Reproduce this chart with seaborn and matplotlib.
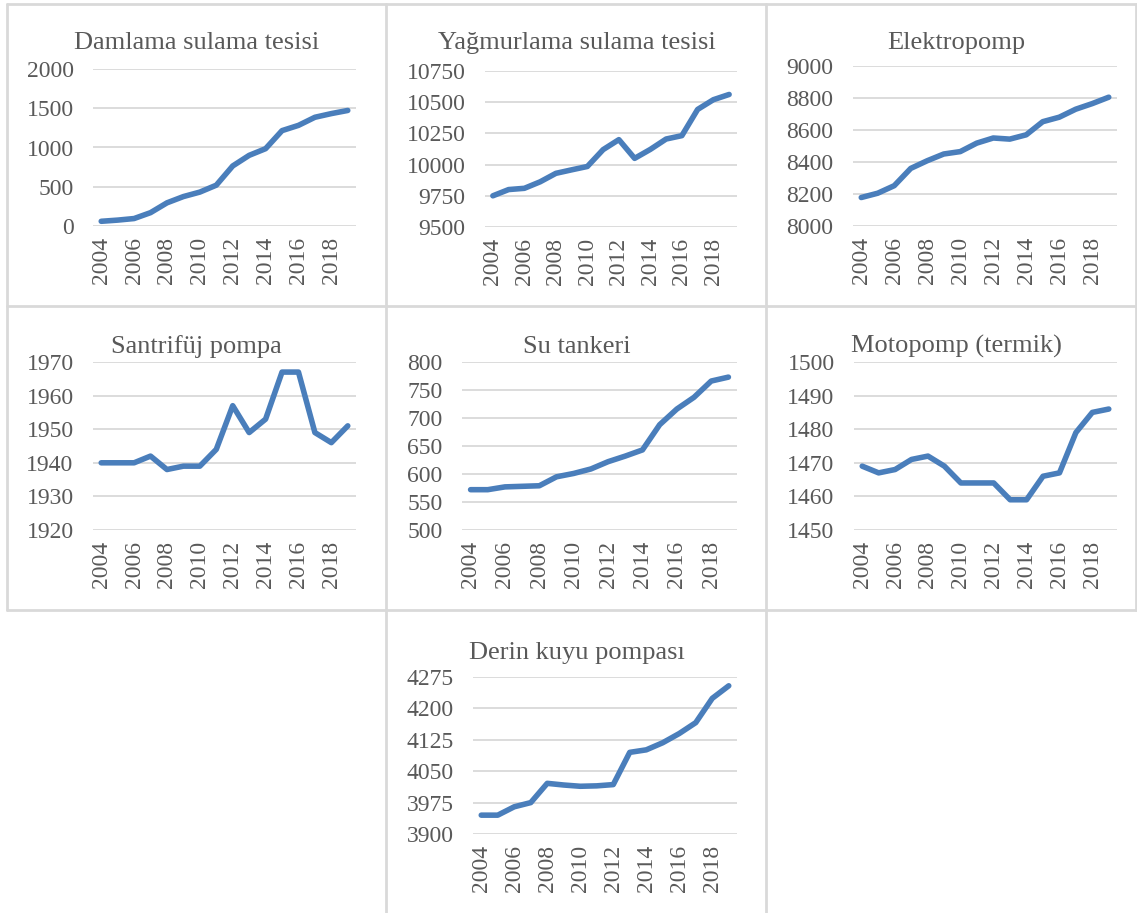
import numpy as np
import pandas as pd
import matplotlib
matplotlib.use("Agg")
import matplotlib.pyplot as plt
from matplotlib.lines import Line2D
import seaborn as sns

years = list(range(2004, 2020))

damlama = [60, 75, 95, 170, 295, 375, 432, 520, 765, 900, 985, 1215, 1282, 1385, 1432, 1472]
yagmurlama = [9750, 9800, 9810, 9862, 9930, 9958, 9985, 10120, 10200, 10050, 10122, 10205, 10232, 10442, 10520, 10562]
elektropomp = [8178, 8205, 8252, 8360, 8408, 8450, 8465, 8518, 8550, 8543, 8570, 8652, 8680, 8730, 8765, 8805]
santrifuj = [1940, 1940, 1940, 1942, 1938, 1939, 1939, 1944, 1957, 1949, 1953, 1967, 1967, 1949, 1946, 1951]
su_tankeri = [572, 572, 577, 578, 579, 595, 601, 609, 622, 632, 643, 688, 716, 737, 766, 773]
motopomp = [1469, 1467, 1468, 1471, 1472, 1469, 1464, 1464, 1464, 1459, 1459, 1466, 1467, 1479, 1485, 1486]
derin_kuyu = [3945, 3945, 3965, 3975, 4021, 4017, 4014, 4015, 4018, 4095, 4101, 4118, 4140, 4166, 4224, 4254]

titles = ["Damlama sulama tesisi", "Yağmurlama sulama tesisi", "Elektropomp",
          "Santrifüj pompa", "Su tankeri", "Motopomp (termik)", "Derin kuyu pompası"]
series = [damlama, yagmurlama, elektropomp, santrifuj, su_tankeri, motopomp, derin_kuyu]
y_ranges = [(0, 2000, 500), (9500, 10750, 250), (8000, 9000, 200),
            (1920, 1970, 10), (500, 800, 50), (1450, 1500, 10), (3900, 4275, 75)]

sns.set_theme(style="white")
plt.rcParams['font.family'] = ['Liberation Serif', 'DejaVu Serif']

W, H = 1137, 913
fig = plt.figure(figsize=(W / 100, H / 100), dpi=100)

TEXT = "#595959"
GRID = "#d9d9d9"
LINE = "#4a7ebb"

# plot areas in pixels: left, right, top, bottom
areas = [(93, 356, 69, 226), (485, 737, 71, 227), (853, 1117, 66, 226),
         (93, 356, 362, 530), (462, 737, 362, 530), (854, 1117, 362, 530),
         (473, 737, 677, 834)]
title_pos = [(197, 49), (577, 49), (956, 49),
             (196, 353), (577, 353), (956, 353),
             (577, 659)]

for i in range(7):
    l, r, t, b = areas[i]
    ax = fig.add_axes([l / W, 1 - b / H, (r - l) / W, (b - t) / H])
    df = pd.DataFrame({"idx": np.arange(len(years)), "val": series[i]})
    sns.lineplot(data=df, x="idx", y="val", ax=ax, color=LINE, linewidth=4.0,
                 solid_joinstyle="round", solid_capstyle="round", clip_on=False)
    lo, hi, step = y_ranges[i]
    ax.set_ylim(lo, hi)
    ax.set_xlim(-0.5, len(years) - 0.5)
    yt = np.arange(lo, hi + step / 2, step)
    ax.set_yticks(yt)
    ax.set_yticklabels([str(int(v)) for v in yt])
    ax.set_xticks(np.arange(0, len(years), 2))
    ax.set_xticklabels([str(y) for y in years[::2]], rotation=90)
    ax.tick_params(axis="y", length=0, pad=14, labelsize=17, labelcolor=TEXT)
    ax.tick_params(axis="x", length=0, pad=8, labelsize=17, labelcolor=TEXT)
    for s in ax.spines.values():
        s.set_visible(False)
    ax.grid(False)
    for v in yt:
        ax.axhline(v, color=GRID, linewidth=1.3, zorder=0)
    ax.set_xlabel("")
    ax.set_ylabel("")
    ax.set_facecolor("none")
    tx, ty = title_pos[i]
    fig.text(tx / W, 1 - ty / H, titles[i], ha="center", va="baseline",
             fontsize=19, color=TEXT)

# panel borders
def hline(y, x0, x1):
    fig.add_artist(Line2D([x0 / W, x1 / W], [1 - y / H, 1 - y / H],
                          color="#d9d9d9", linewidth=2.0))

def vline(x, y0, y1):
    fig.add_artist(Line2D([x / W, x / W], [1 - y0 / H, 1 - y1 / H],
                          color="#d9d9d9", linewidth=2.0))

cols = [7, 386, 766, 1136]
rows = [4, 306, 610]
for y in rows:
    hline(y, cols[0], cols[3])
for x in cols:
    vline(x, rows[0], rows[2])
vline(cols[1], rows[2], H)
vline(cols[2], rows[2], H)

fig.savefig("out.png", dpi=100, facecolor="white")
